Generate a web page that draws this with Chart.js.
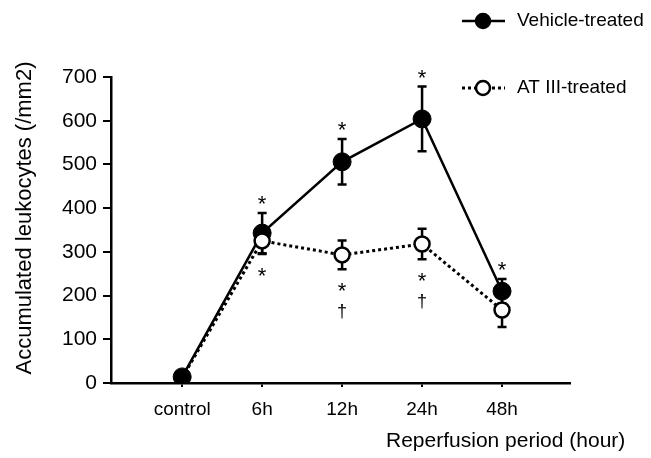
<!DOCTYPE html>
<html><head><meta charset="utf-8">
<script src="https://cdn.jsdelivr.net/npm/chart.js@4/dist/chart.umd.min.js"></script>
<style>html,body{margin:0;padding:0;background:#fff;} #wrap{width:651px;height:458px;}</style>
</head><body><div id="wrap"><canvas id="c" width="651" height="458"></canvas></div>
<script>
const categories = ['control', '6h', '12h', '24h', '48h'];
const vehicleMean = [14, 343, 506, 604, 210];
const vehicleSE   = [4, 46, 52, 74, 28];
const atMean      = [12, 325, 293, 318, 167];
const atSE        = [4, 30, 33, 35, 39];
const vehicleStar = ['', '*', '*', '*', '*'];
const atStar      = ['', '*', '*', '*', ''];
const atDagger    = ['', '', '\u2020', '\u2020', ''];
const yTicks = [0, 100, 200, 300, 400, 500, 600, 700];
const seriesNames = ['Vehicle-treated', 'AT III-treated'];
const yTitle = 'Accumulated leukocytes (/mm2)';
const xTitle = 'Reperfusion period (hour)';

const FONT = '"Liberation Sans", Arial, sans-serif';

const errorBars = {
  id: 'errorBars',
  beforeDatasetsDraw(chart) {
    const ctx = chart.ctx, x = chart.scales.x, y = chart.scales.y;
    const draw = (means, ses) => {
      means.forEach((m, i) => {
        const px = x.getPixelForValue(i);
        const top = y.getPixelForValue(m + ses[i]);
        const bot = y.getPixelForValue(m - ses[i]);
        ctx.save();
        ctx.strokeStyle = '#000';
        ctx.lineWidth = 2.5;
        ctx.beginPath();
        ctx.moveTo(px, top); ctx.lineTo(px, bot);
        ctx.moveTo(px - 4.5, top); ctx.lineTo(px + 4.5, top);
        ctx.moveTo(px - 4.5, bot); ctx.lineTo(px + 4.5, bot);
        ctx.stroke();
        ctx.restore();
      });
    };
    draw(vehicleMean, vehicleSE);
    draw(atMean, atSE);
  }
};

const extras = {
  id: 'extras',
  afterDraw(chart) {
    const ctx = chart.ctx, x = chart.scales.x, y = chart.scales.y;
    ctx.save();
    ctx.fillStyle = '#000';
    ctx.textAlign = 'center';
    ctx.textBaseline = 'middle';
    // significance marks
    ctx.font = '22px ' + FONT;
    vehicleStar.forEach((s, i) => {
      if (!s) return;
      const px = x.getPixelForValue(i);
      const top = y.getPixelForValue(vehicleMean[i] + vehicleSE[i]);
      ctx.fillText(s, px, top - 13 + 5);
    });
    atStar.forEach((s, i) => {
      if (!s) return;
      const px = x.getPixelForValue(i);
      const bot = y.getPixelForValue(atMean[i] - atSE[i]);
      ctx.fillText(s, px, bot + 18 + 5);
    });
    ctx.font = '18px ' + FONT;
    atDagger.forEach((s, i) => {
      if (!s) return;
      const px = x.getPixelForValue(i);
      const bot = y.getPixelForValue(atMean[i] - atSE[i]);
      ctx.fillText(s, px, bot + 43);
    });
    // legend
    const ds = chart.data.datasets;
    const legendRows = [21, 88];
    ds.forEach((d, k) => {
      const ly = legendRows[k];
      ctx.save();
      ctx.strokeStyle = '#000';
      ctx.lineWidth = d.borderWidth;
      ctx.setLineDash(d.borderDash || []);
      ctx.beginPath();
      ctx.moveTo(462, ly); ctx.lineTo(505, ly);
      ctx.stroke();
      ctx.setLineDash([]);
      ctx.beginPath();
      ctx.arc(483, ly, 7, 0, Math.PI * 2);
      ctx.fillStyle = k === 0 ? '#000' : '#fff';
      ctx.fill();
      ctx.lineWidth = 2.5;
      ctx.stroke();
      ctx.restore();
      ctx.font = '19px ' + FONT;
      ctx.textAlign = 'left';
      ctx.fillStyle = '#000';
      ctx.fillText(d.label, 517, ly);
    });
    // axis titles
    ctx.font = '21px ' + FONT;
    ctx.textAlign = 'left';
    ctx.fillText(xTitle, 386, 441);
    ctx.save();
    ctx.translate(25, 218);
    ctx.rotate(-Math.PI / 2);
    ctx.font = '22px ' + FONT;
    ctx.textAlign = 'center';
    ctx.fillText(yTitle, 0, 0);
    ctx.restore();
    ctx.restore();
  }
};

new Chart(document.getElementById('c'), {
  type: 'line',
  data: {
    datasets: [
      {
        label: seriesNames[0],
        data: vehicleMean.map((v, i) => ({ x: i, y: v })),
        borderColor: '#000',
        borderWidth: 2.5,
        pointRadius: 9,
        pointBackgroundColor: '#000',
        pointBorderColor: '#000',
        pointBorderWidth: 1,
        order: 2
      },
      {
        label: seriesNames[1],
        data: atMean.map((v, i) => ({ x: i, y: v })),
        borderColor: '#000',
        borderWidth: 3,
        borderDash: [3, 3],
        pointRadius: [0, 7.5, 7.5, 7.5, 7.5],
        pointBackgroundColor: '#fff',
        pointBorderColor: '#000',
        pointBorderWidth: 2.5,
        order: 1
      }
    ]
  },
  options: {
    responsive: false,
    animation: false,
    devicePixelRatio: 1,
    layout: { padding: { top: 77, right: 81, left: 0, bottom: 0 } },
    plugins: { legend: { display: false }, tooltip: { enabled: false } },
    scales: {
      x: {
        type: 'linear',
        min: -0.89,
        max: 4.85,
        afterFit(s) { s.height = 75; },
        afterBuildTicks(s) { s.ticks = categories.map((_, i) => ({ value: i })); },
        ticks: {
          autoSkip: false, maxRotation: 0, padding: 11,
          color: '#000', font: { size: 19, family: FONT },
          callback: (v, i) => categories[i]
        },
        grid: { drawOnChartArea: false, drawTicks: true, tickLength: 4, color: '#000', lineWidth: 2 },
        border: { color: '#000', width: 2.5 }
      },
      y: {
        min: 0, max: 700,
        afterFit(s) { s.width = 111; },
        afterBuildTicks(s) { s.ticks = yTicks.map(v => ({ value: v })); },
        ticks: { color: '#000', padding: 6, font: { size: 21, family: FONT } },
        grid: { drawOnChartArea: false, drawTicks: true, tickLength: 8, color: '#000', lineWidth: 2 },
        border: { color: '#000', width: 2.5 }
      }
    }
  },
  plugins: [errorBars, extras]
});
</script></body></html>
